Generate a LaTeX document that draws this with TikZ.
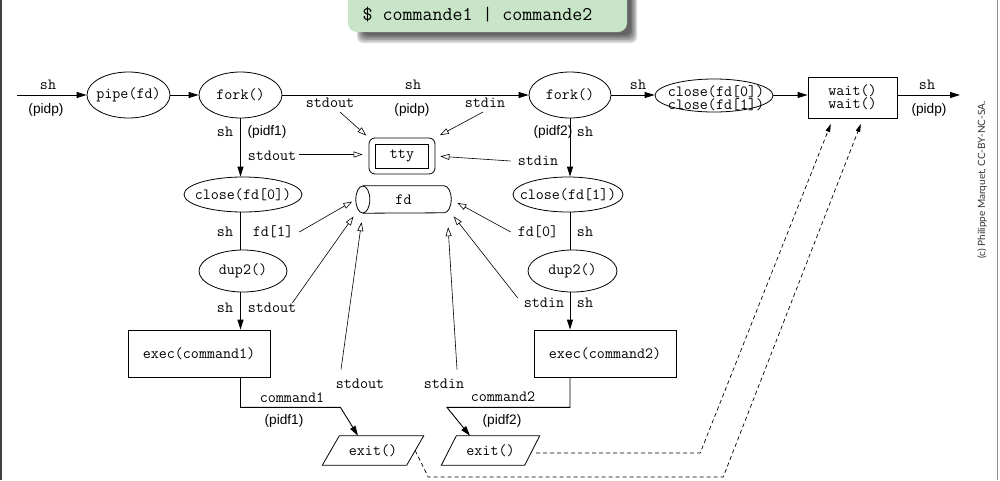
\documentclass[tikz,border=0pt]{standalone}
\usepackage{fontspec}
\setmainfont{Liberation Sans}
\newfontfamily\latofont{Lato}
\usetikzlibrary{shapes.geometric,arrows.meta}
\definecolor{bgreen}{HTML}{C8E5C8}
\newcommand\fsz{\fontsize{15.6}{16}\selectfont}
\newcommand\ssz{\fontsize{13.7}{14}\selectfont}
\newcommand\zw[1]{\makebox[0pt]{#1}}
\tikzset{
  lbl/.style={font=\fsz\ttfamily, inner sep=0pt},
  slbl/.style={font=\ssz\rmfamily, inner sep=0pt},
  ell/.style={ellipse, draw, inner sep=0pt, line width=0.8pt, font=\fsz\ttfamily},
  box/.style={rectangle, draw, inner sep=0pt, line width=0.8pt, font=\fsz\ttfamily},
  arr/.style={line width=0.9pt, -{Triangle[length=10pt,width=6pt]}},
  oarr/.style={line width=0.6pt, -{Triangle[open,length=9pt,width=6pt]}},
  darr/.style={line width=0.7pt, dash pattern=on 4pt off 3pt, -{Triangle[length=8pt,width=4.5pt]}},
}
\begin{document}
\begin{tikzpicture}[x=1pt,y=-1pt]
\useasboundingbox (0,0) rectangle (1000,480);
\fill[white] (0,0) rectangle (1000,480);
% frame
\draw[line width=1.6pt, black!75] (1,0) -- (1,480);
\draw[line width=1pt, black!45] (997.5,0) -- (997.5,480);
% banner
\foreach \k in {0,...,5} {
  \fill[black, opacity=0.14, rounded corners=6pt] (357+\k*1.2, -12) rectangle (637-\k*1.2, 43-\k*1.6);
}
\fill[bgreen, rounded corners=9pt] (348,-12) rectangle (627,32);
\node[font=\fontsize{19.4}{20}\selectfont\ttfamily, inner sep=0pt] (cmd) at (477.5,15) {\$ commande1 | commande2};
% copyright
\node[rotate=90, font=\latofont\fontsize{10}{11}\selectfont, text=black!80, inner sep=0pt] (copy) at (982,180) {(c) Philippe Marquet, CC-BY-NC-SA.};

% main row
\coordinate (in) at (17,95);
\coordinate (out) at (960,95);
\node[ell, minimum width=83, minimum height=46] (pipe) at (128.5,95) {\zw{pipe(fd)}};
\node[ell, minimum width=83, minimum height=46] (fork1) at (240.5,95) {\zw{fork()}};
\node[ell, minimum width=82, minimum height=46] (fork2) at (570,95) {\zw{fork()}};
\node[ell, minimum width=118, minimum height=33] (cl) at (714,95.5) {};
\node[lbl, align=center, font=\fontsize{15.6}{8.5}\selectfont\ttfamily] (clt) at (716,98) {close(fd[0])\\close(fd[1])};
\node[box, minimum width=89, minimum height=41, align=center, font=\fontsize{15.6}{10}\selectfont\ttfamily] (wait) at (852.5,97.5) {wait()\\wait()};

% column 1
\node[ell, minimum width=118, minimum height=35] (close0) at (243,194.5) {\zw{close(fd[0])}};
\node[ell, minimum width=88, minimum height=42] (dup1) at (243,271) {\zw{dup2()}};
\node[box, minimum width=142, minimum height=47] (exec1) at (199,353.5) {exec(command1)};
\node[lbl, minimum width=84, minimum height=29] (ex1) at (373,450.5) {exit()};
\draw[line width=0.8pt] ([xshift=8.5]ex1.north west) -- ([xshift=8.5]ex1.north east) -- ([xshift=-8.5]ex1.south east) -- ([xshift=-8.5]ex1.south west) -- cycle;

% column 2
\node[ell, minimum width=110, minimum height=35] (close1) at (568,194.5) {\zw{close(fd[1])}};
\node[ell, minimum width=89, minimum height=42] (dup2) at (572.5,271) {\zw{dup2()}};
\node[box, minimum width=142, minimum height=47] (exec2) at (605,353.5) {exec(command2)};
\node[lbl, minimum width=83, minimum height=29] (ex2) at (490.5,450.5) {exit()};
\draw[line width=0.8pt] ([xshift=7.5]ex2.north west) -- ([xshift=7.5]ex2.north east) -- ([xshift=-7.5]ex2.south east) -- ([xshift=-7.5]ex2.south west) -- cycle;

% tty
\node[box, rounded corners=6pt, minimum width=66, minimum height=36] (tty) at (402,156) {};
\node[box, minimum width=53, minimum height=24] (ttyin) at (tty) {tty};

% fd cylinder
\node[lbl, minimum width=95, minimum height=27] (fd) at (403.5,199.5) {fd};
\draw[line width=0.8pt] ([xshift=7]fd.north west) -- ([xshift=-7]fd.north east)
   arc[start angle=90, end angle=-90, x radius=7pt, y radius=13.5pt] -- ([xshift=7]fd.south west);
\draw[line width=0.8pt] ([xshift=7]fd.west) ellipse [x radius=7pt, y radius=13.5pt];

% main row connectors
\draw[arr] (in) -- (pipe);
\draw[arr] (pipe) -- (fork1);
\draw[arr] (fork1) -- (fork2);
\draw[arr] (fork2) -- (fork2 -| cl.west);
\draw[arr] (cl.east |- out) -- (wait.west |- out);
\draw[arr] (wait.east |- out) -- (out);
\node[lbl] (sh0) at (48,85) {sh};
\node[slbl] (pp0) at (46,110) {(pidp)};
\node[lbl] (sh1) at (413,85) {sh};
\node[slbl] (pp1) at (412,110) {(pidp)};
\node[lbl] (sh2) at (638,85) {sh};
\node[lbl] (sh3) at (927,85) {sh};
\node[slbl] (pp3) at (929,110) {(pidp)};

% column 1 connectors
\draw[arr] (fork1.south) -- (fork1.south |- close0.north);
\draw[line width=0.9pt] (fork1.south |- close0.south) -- (fork1.south |- dup1.north);
\draw[arr] (fork1.south |- dup1.south) -- (fork1.south |- exec1.north);
\draw[arr] (fork1.south |- exec1.south) -- ++(0,30) -- ++(100,0) -- ([xshift=-15]ex1.north);
\node[lbl] (c1a) at (225,132) {sh};
\node[slbl] (c1b) at (267,132) {(pidf1)};
\node[lbl] (c1c) at (225,232) {sh};
\node[lbl] (c1e) at (225,308) {sh};
\node[lbl] (cmd1) at (292,398) {command1};
\node[slbl] (pf1) at (284,421) {(pidf1)};

% column 2 connectors
\draw[arr] (fork2.south) -- (fork2.south |- close1.north);
\draw[line width=0.9pt] (fork2.south |- close1.south) -- (fork2.south |- dup2.north);
\draw[arr] (fork2.south |- dup2.south) -- (fork2.south |- exec2.north);
\draw[arr] (fork2.south |- exec2.south) -- ++(0,30) -- ++(-123,0) -- ([xshift=-20.5]ex2.north);
\node[slbl] (c2a) at (553,132) {(pidf2)};
\node[lbl] (c2b) at (585,132) {sh};
\node[lbl] (c2c) at (585,232) {sh};
\node[lbl] (c2e) at (585,303) {sh};
\node[lbl] (cmd2) at (503,397) {command2};
\node[slbl] (pf2) at (502,421) {(pidf2)};

% labels with open arrows
\node[lbl] (lso0) at (330,103) {stdout};
\node[lbl] (lsi0) at (485,103) {stdin};
\node[lbl] (lso1) at (272,156) {stdout};
\node[lbl] (lsi1) at (538,161) {stdin};
\node[lbl] (lfd1) at (273,232) {fd[1]};
\node[lbl] (lso2) at (272,308) {stdout};
\node[lbl] (lso3) at (360,384) {stdout};
\node[lbl] (lsi3) at (444,384) {stdin};
\node[lbl] (lfd0) at (538,232) {fd[0]};
\node[lbl] (lsi2) at (544,303) {stdin};

\draw[oarr, shorten >=3pt] ([xshift=10pt,yshift=-4pt]lso0.south) -- (tty.north west);
\draw[oarr, shorten >=5pt] ([xshift=-2pt,yshift=-4pt]lsi0.south) -- (tty.north east);
\draw[oarr, shorten >=6pt] ([xshift=3pt,yshift=1.5pt]lso1.east) -- ([yshift=1.5pt]lso1.east -| tty.west);
\draw[oarr, shorten >=5pt] ([xshift=-7pt]lsi1.west) -- (tty.east);
\draw[oarr, shorten >=4pt] ([xshift=6pt]lfd1.east) -- (fd.west);
\draw[oarr, shorten >=4pt] ([xshift=-4pt]lso2.north east) -- (fd.south west);
\draw[oarr, shorten >=9pt] ([xshift=-19pt,yshift=9.5pt]lso3.north) -- ([xshift=7pt]fd.south west);
\draw[oarr, shorten >=14pt] ([xshift=13pt,yshift=9.5pt]lsi3.north) -- ([xshift=-4pt]fd.south east);
\draw[oarr, shorten >=7pt] ([xshift=-7pt]lfd0.west) -- (fd.east);
\draw[oarr, shorten >=4pt] ([xshift=-6pt]lsi2.north west) -- (fd.south east);

% dashed connectors
\draw[darr, shorten >=6pt] (ex1.east) -- ++(13,26.5) -- ++(295,0) -- ([xshift=10.5pt]wait.south);
\draw[darr, shorten >=6pt] ([xshift=4pt,yshift=-2.5pt]ex2.east) -- ++(164,0) -- ([xshift=-19.5pt]wait.south);
\end{tikzpicture}
\end{document}
